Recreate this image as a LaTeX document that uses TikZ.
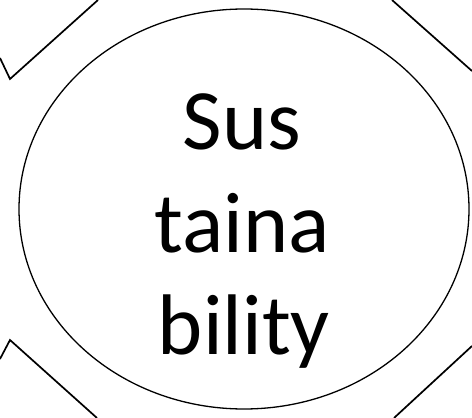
\documentclass[tikz,border=0pt]{standalone}
\usepackage{fontspec}
\setmainfont{Carlito}
\begin{document}
\begin{tikzpicture}[x=1pt,y=1pt,
  frame/.style={draw=black,line width=1.7pt,line join=miter},
  bigtext/.style={inner sep=0pt,anchor=base,font=\fontsize{86}{103}\selectfont}]
\useasboundingbox (0,0) rectangle (472,418);
\draw[line width=1.3pt] (244,209) ellipse [x radius=225, y radius=200];
\node[bigtext] (l1) at (242,268) {Sus};
\node[bigtext] (l2) at (242,165) {taina};
\node[bigtext] (l3) at (244,63) {bility};
\draw[frame] (0,360) -- (10,339) -- (98,418);
\draw[frame] (392,418) -- (472,347);
\draw[frame] (0,59) -- (10,78) -- (97,0);
\draw[frame] (472,72) -- (394,0);
\end{tikzpicture}
\end{document}
